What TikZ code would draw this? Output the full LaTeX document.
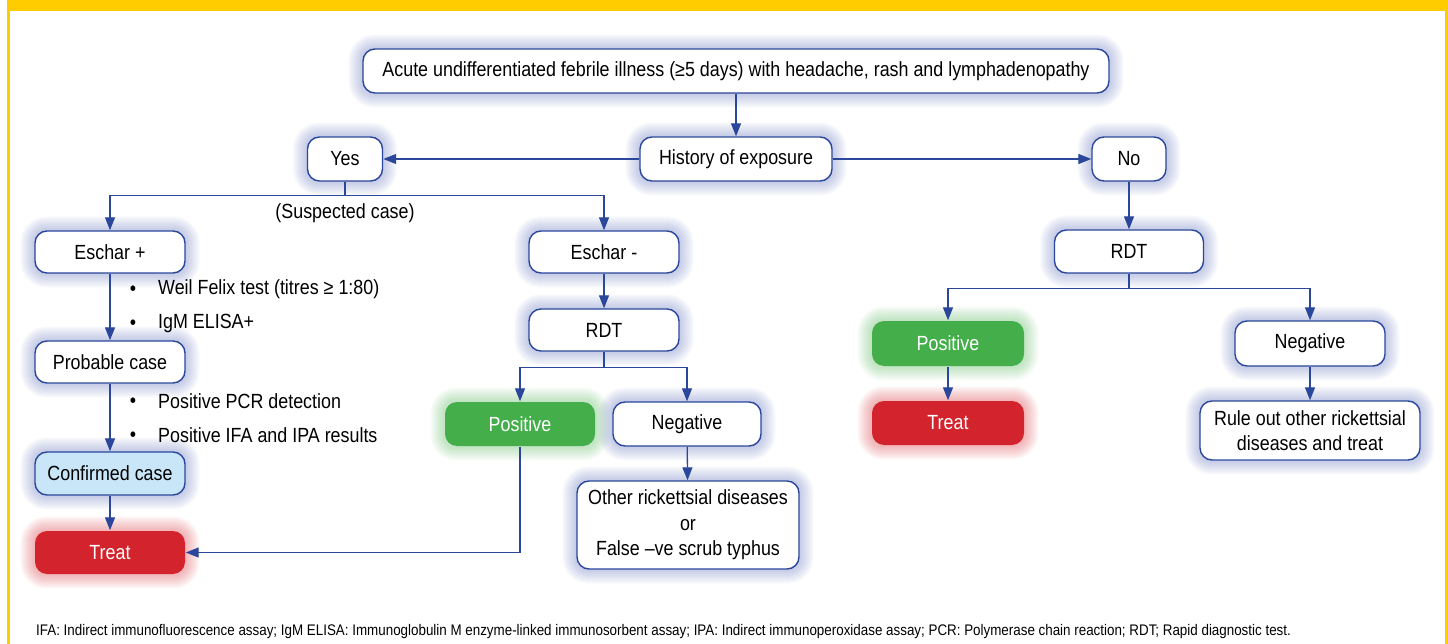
\documentclass[tikz,border=0pt]{standalone}
\usepackage{fontspec}
\setmainfont{Liberation Sans}[FakeStretch=0.872]
\usetikzlibrary{arrows.meta,backgrounds}
\definecolor{ylw}{RGB}{255,204,0}
\definecolor{dblue}{RGB}{43,71,155}
\definecolor{hb}{RGB}{80,100,180}
\definecolor{gfill}{RGB}{67,174,74}
\definecolor{rfill}{RGB}{211,35,44}
\definecolor{lbfill}{RGB}{200,230,248}
\tikzset{
  box/.style={draw=dblue, line width=1.4pt, rounded corners=12pt, fill=white,
    inner sep=0pt, align=center, text=black,
    font=\fontsize{20.5}{25.5}\selectfont},
  gbox/.style={box, draw=none, fill=gfill, text=white},
  rbox/.style={box, draw=none, fill=rfill, text=white},
  cbox/.style={box, fill=lbfill},
  arr/.style={draw=dblue, line width=1.3pt, -{Triangle[length=13pt,width=10pt]}},
  ln/.style={draw=dblue, line width=1.3pt},
  lbl/.style={inner sep=0pt, font=\fontsize{20.5}{25}\selectfont},
  foot/.style={inner sep=0pt, font=\fontsize{15.35}{18}\selectfont},
}
\begin{document}
\begin{tikzpicture}[x=1pt,y=-1pt]
\useasboundingbox (0,0) rectangle (1448,644);
% frame
\fill[ylw] (7,0) rectangle (1448,11);
\fill[ylw] (7,0) rectangle (9.5,644);
\fill[ylw] (1445,0) rectangle (1448,644);

% nodes
\node[box, minimum width=746pt, minimum height=44pt] (top) at (736,71)
  {Acute undifferentiated febrile illness (≥5 days) with headache, rash and lymphadenopathy};
\node[box, minimum width=192pt, minimum height=44pt] (hist) at (736,159) {History of exposure};
\node[box, minimum width=75pt, minimum height=44pt] (yes) at (345,159) {Yes};
\node[box, minimum width=74pt, minimum height=44pt] (no) at (1129,159) {No};
\node[box, minimum width=150pt, minimum height=42pt] (eplus) at (110,252) {Eschar +};
\node[box, minimum width=150pt, minimum height=42pt] (eminus) at (604,252) {Eschar -};
\node[box, minimum width=150pt, minimum height=42pt] (prob) at (110,362) {Probable case};
\node[cbox, minimum width=150pt, minimum height=43pt] (conf) at (110,473.5) {Confirmed case};
\node[rbox, minimum width=150pt, minimum height=43pt] (treatL) at (110,552.5) {Treat};
\node[box, minimum width=150pt, minimum height=42pt] (rdtM) at (604,330) {RDT};
\node[gbox, minimum width=150pt, minimum height=44pt] (posM) at (520,424) {Positive};
\node[box, minimum width=148pt, minimum height=44pt] (negM) at (687,424) {Negative};
\node[box, minimum width=222pt, minimum height=88pt] (other) at (688,525)
  {Other rickettsial diseases\\or\\False –ve scrub typhus};
\node[box, minimum width=149pt, minimum height=43pt] (rdtR) at (1129,251.5) {RDT};
\node[gbox, minimum width=152pt, minimum height=45pt] (posR) at (948,343.5) {Positive};
\node[rbox, minimum width=152pt, minimum height=44pt] (treatR) at (948,423) {Treat};
\node[box, minimum width=150pt, minimum height=45pt] (negR) at (1310,343.5) {Negative};
\node[box, minimum width=220pt, minimum height=59pt] (rule) at (1310,430.5)
  {Rule out other rickettsial\\diseases and treat};

% labels
\node[lbl] (susp) at (345,213) {(Suspected case)};
\node[lbl] (b1) at (133,291) {•};
\node[lbl, anchor=west] (t1) at (158,289) {Weil Felix test (titres ≥ 1:80)};
\node[lbl] (b2) at (133,325) {•};
\node[lbl, anchor=west] (t2) at (158,323) {IgM ELISA+};
\node[lbl] (b3) at (133,403) {•};
\node[lbl, anchor=west] (t3) at (158,401) {Positive PCR detection};
\node[lbl] (b4) at (133,437) {•};
\node[lbl, anchor=west] (t4) at (158,435) {Positive IFA and IPA results};
\node[foot, anchor=west] (fn) at (36,632) {IFA: Indirect immunofluorescence assay; IgM ELISA: Immunoglobulin M enzyme-linked immunosorbent assay; IPA: Indirect immunoperoxidase assay; PCR: Polymerase chain reaction; RDT; Rapid diagnostic test.};

% connectors
\draw[arr] (top.south) -- (hist.north);
\draw[arr] (hist.west) -- (yes.east);
\draw[arr] (hist.east) -- (no.west);
\draw[ln] (yes.south) -- ++(0,14) coordinate (yb);
\draw[arr] (yb) -| (eplus.north);
\draw[arr] (yb) -| (eminus.north);
\draw[arr] (eplus) -- (prob);
\draw[arr] (prob) -- (conf);
\draw[arr] (conf) -- (treatL);
\draw[arr] (eminus) -- (rdtM);
\draw[ln] (rdtM.south) -- ++(0,16) coordinate (rb);
\draw[arr] (rb) -| (posM.north);
\draw[arr] (rb) -| (negM.north);
\draw[arr] (negM) -- (other);
\draw[arr] (posM.south) |- (treatL.east);
\draw[arr] (no) -- (rdtR);
\draw[ln] (rdtR.south) -- ++(0,15) coordinate (rr);
\draw[arr] (rr) -| (posR.north);
\draw[arr] (rr) -| (negR.north);
\draw[arr] (posR) -- (treatR);
\draw[arr] (negR) -- (rule);

% halos
\begin{pgfonlayer}{background}
\foreach \n/\c in {top/hb,hist/hb,yes/hb,no/hb,eplus/hb,eminus/hb,prob/hb,conf/hb,treatL/rfill,rdtM/hb,posM/gfill,negM/hb,other/hb,rdtR/hb,posR/gfill,treatR/rfill,negR/hb,rule/hb}{
  \foreach \r in {1,...,14}{
    \pgfmathsetmacro\rr{12+\r}
    \fill[\c, opacity=0.028, rounded corners=\rr pt]
      ([shift={(-\r pt,\r pt)}]\n.north west) rectangle ([shift={(\r pt,-\r pt)}]\n.south east);
  }
}
\end{pgfonlayer}
\end{tikzpicture}
\end{document}
